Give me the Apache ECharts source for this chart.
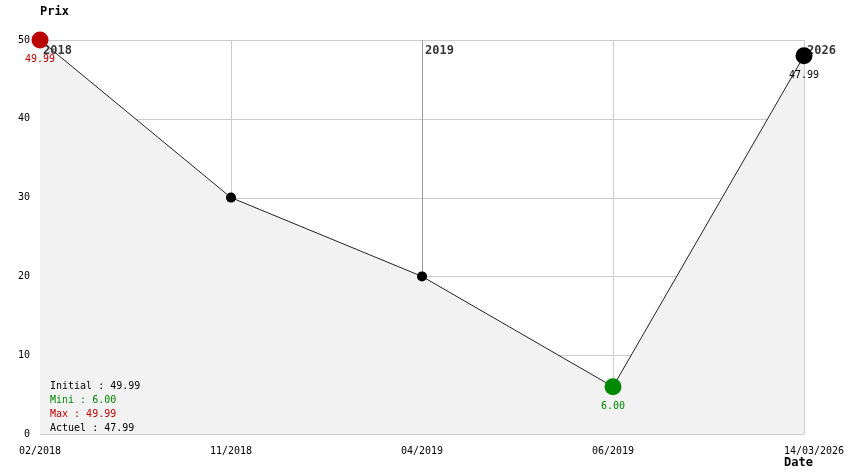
<!DOCTYPE html>
<html><head><meta charset="utf-8">
<script src="https://cdn.jsdelivr.net/npm/echarts@6/dist/echarts.min.js"></script>
<style>html,body{margin:0;padding:0;background:#fff}#c{width:844px;height:474px}</style>
</head><body><div id="c"></div>
<script>
const categories = ['02/2018', '11/2018', '04/2019', '06/2019', '14/03/2026'];
const prices = [49.99, 30, 20, 6.00, 47.99];
const yearLabels = [[0, '2018'], [2, '2019'], [4, '2026']];
const summary = [['Initial : 49.99', '#000'], ['Mini : 6.00', '#008800'], ['Max : 49.99', '#bb0000'], ['Actuel : 47.99', '#000']];
const yTicks = [0, 10, 20, 30, 40, 50];

const FONT = '"DejaVu Sans Mono", monospace';
const minV = Math.min(...prices), maxV = Math.max(...prices);
const seriesData = prices.map((v, i) => {
  let color = '#000', size = 10, label = {show: false};
  const last = i === prices.length - 1;
  if (v === maxV && i === prices.indexOf(maxV)) { color = '#bb0000'; size = 17; label = {show: true, color: '#bb0000'}; }
  else if (v === minV) { color = '#008800'; size = 17; label = {show: true, color: '#008800'}; }
  else if (last) { color = '#000'; size = 17; label = {show: true, color: '#000'}; }
  return {value: v, symbolSize: size, itemStyle: {color}, label: Object.assign({position: 'bottom', distance: 6, fontFamily: FONT, fontSize: 10, formatter: p => p.value.toFixed(2)}, label)};
});
const yearIdx = 2;

const chart = echarts.init(document.getElementById('c'));
chart.setOption({
  animation: false,
  grid: {left: 40, right: 40, top: 40, bottom: 40, containLabel: false, outerBoundsMode: 'none'},
  xAxis: {
    type: 'category', boundaryGap: false,
    data: categories.map((c, i) => i === categories.length - 1 ? {value: c, textStyle: {padding: [0, 0, 0, 20]}} : c),
    axisLine: {show: false}, axisTick: {show: false},
    axisLabel: {fontFamily: FONT, fontSize: 10, color: '#000', margin: 12, interval: 0, hideOverlap: false},
    splitLine: {show: false}
  },
  yAxis: {
    type: 'value', min: 0, max: 50, interval: 10,
    axisLine: {show: false}, axisTick: {show: false},
    axisLabel: {fontFamily: FONT, fontSize: 10, color: '#000', margin: 10},
    splitLine: {show: false}
  },
  graphic: [
    {type: 'text', z: 100, left: 40, top: 6, style: {text: 'Prix', font: 'bold 12px ' + FONT, fill: '#000'}},
    {type: 'text', z: 100, left: 784, top: 457, style: {text: 'Date', font: 'bold 12px ' + FONT, fill: '#000'}},
    ...summary.map((s, i) => ({type: 'text', z: 100, left: 50, top: 381 + i * 14, style: {text: s[0], font: '10px ' + FONT, fill: s[1]}}))
  ],
  series: [
    {
      type: 'custom', z: 2, silent: true, clip: false,
      data: [0],
      renderItem: (params, api) => {
        const n = prices.length;
        const children = [];
        const top = api.coord([0, 50])[1], bottom = api.coord([0, 0])[1];
        const left = api.coord([0, 0])[0], right = api.coord([n - 1, 0])[0];
        yTicks.forEach(t => {
          const y = Math.round(api.coord([0, t])[1]) + 0.5;
          children.push({type: 'line', z2: 1, shape: {x1: left, y1: y, x2: right, y2: y}, style: {stroke: '#cccccc', lineWidth: 1}});
        });
        categories.forEach((c, i) => {
          const x = Math.round(api.coord([i, 0])[0]) + 0.5;
          children.push({type: 'line', z2: i === yearIdx ? 2 : 1, shape: {x1: x, y1: top, x2: x, y2: bottom}, style: {stroke: i === yearIdx ? '#999999' : '#cccccc', lineWidth: 1}});
        });
        const pts = prices.map((v, i) => api.coord([i, v]));
        pts.push(api.coord([n - 1, 0]));
        pts.push(api.coord([0, 0]));
        children.push({type: 'polygon', z2: 10, shape: {points: pts}, style: {fill: '#f2f2f2', stroke: '#f2f2f2', lineWidth: 0}});
        return {type: 'group', children};
      }
    },
    {
      type: 'line', data: seriesData, symbol: 'circle', z: 5,
      lineStyle: {color: '#222', width: 1}
    },
    {
      type: 'scatter', symbolSize: 0, z: 4,
      data: yearLabels.map(y => [y[0], 50, y[1]]),
      label: {show: true, position: 'right', distance: 3, offset: [0, 11],
        fontFamily: FONT, fontSize: 12, fontWeight: 'bold', color: '#000',
        formatter: p => p.value[2]}
    }
  ]
});
</script></body></html>
